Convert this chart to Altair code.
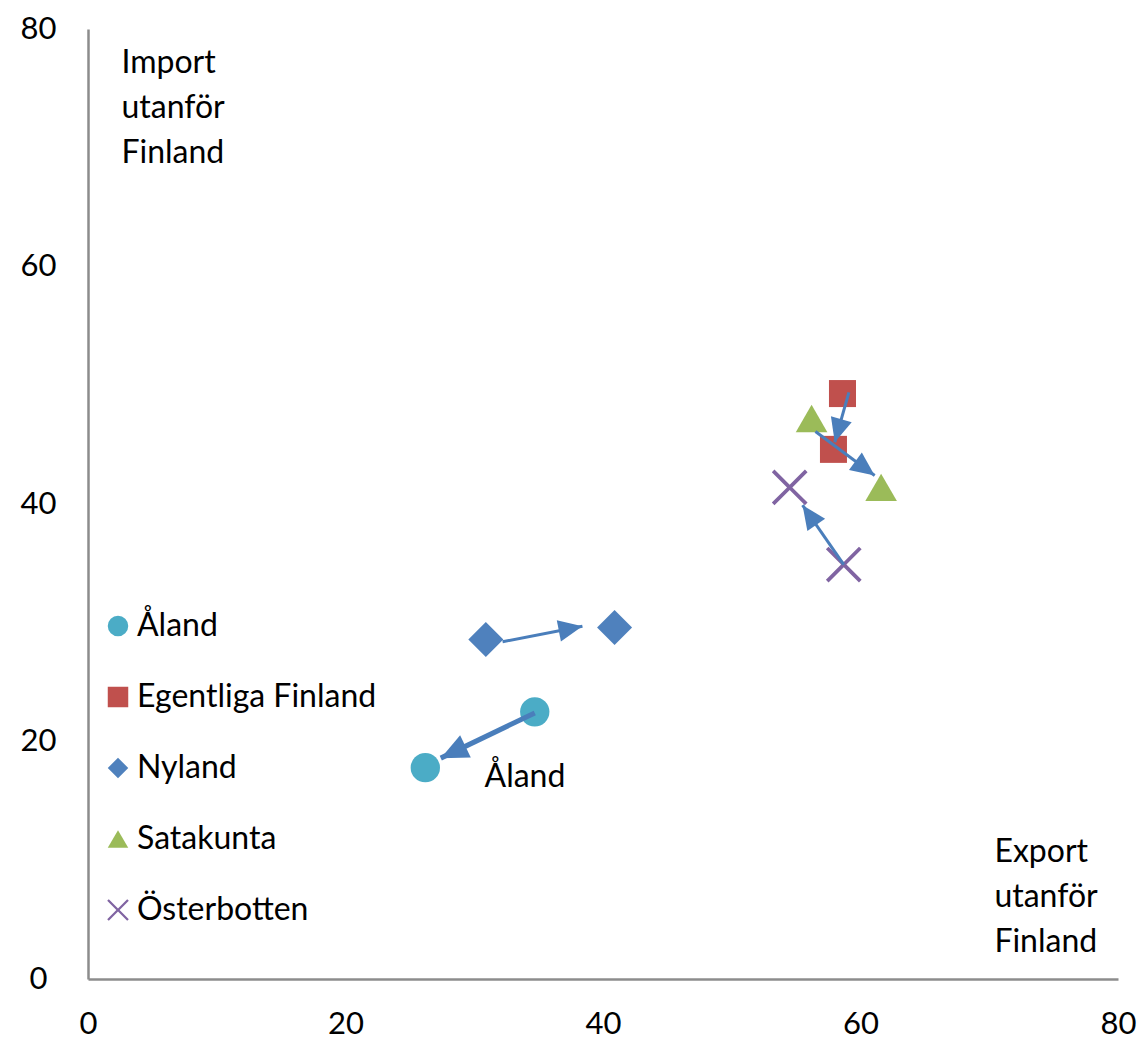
import math
import altair as alt
import pandas as pd

# ---- data ----
regions = ["Åland", "Egentliga Finland", "Nyland", "Satakunta", "Österbotten"]
colors = ["#4BACC6", "#C0504D", "#4F81BD", "#9BBB59", "#8064A2"]

# two observations per region: export outside Finland (x), import outside Finland (y)
x_start = [34.7, 58.6, 30.9, 56.2, 58.7]
y_start = [22.5, 49.3, 28.6, 47.2, 34.9]
x_end = [26.2, 57.9, 40.9, 61.6, 54.5]
y_end = [17.8, 44.6, 29.6, 41.4, 41.4]

# arrows (tail -> tip) as drawn
arrow_region = ["Åland", "Egentliga Finland", "Nyland", "Satakunta", "Österbotten"]
arrow_x1 = [34.7, 59.1, 32.2, 56.5, 58.7]
arrow_y1 = [22.4, 49.4, 28.4, 46.1, 34.9]
arrow_x2 = [27.4, 58.0, 38.4, 61.1, 55.5]
arrow_y2 = [18.6, 45.2, 29.7, 42.4, 39.9]

x_ticks = [0, 20, 40, 60, 80]
y_ticks = [0, 20, 40, 60, 80]

ann_text = ["Import\nutanför\nFinland", "Export\nutanför\nFinland", "Åland"]
ann_x = [2.6, 70.4, 30.8]
ann_y = [78.4, 11.95, 18.3]

# ---- layout ----
W, H = 1030, 950
FONT = "Lato"
px_x = W / 80.0
px_y = H / 80.0

pts = pd.DataFrame({
    "region": regions * 2,
    "x": x_start + x_end,
    "y": y_start + y_end,
})

angles = []
for a, b, c, d in zip(arrow_x1, arrow_y1, arrow_x2, arrow_y2):
    dx = (c - a) * px_x
    dy = (d - b) * px_y
    angles.append(math.degrees(math.atan2(dx, dy)) % 360)

arr = pd.DataFrame({
    "region": arrow_region,
    "x1": arrow_x1, "y1": arrow_y1,
    "x2": arrow_x2, "y2": arrow_y2,
    "angle": angles,
})

ann = pd.DataFrame({"text": ann_text, "x": ann_x, "y": ann_y})

# X-shaped filled polygon (rotated plus)
def x_path(w=0.11, L=1.38):
    plus = [(w, L), (w, w), (L, w), (L, -w), (w, -w), (w, -L),
            (-w, -L), (-w, -w), (-L, -w), (-L, w), (-w, w), (-w, L)]
    c = math.cos(math.pi / 4)
    rot = [((px - py) * c, (px + py) * c) for px, py in plus]
    return "M" + "L".join(f"{p:.3f},{q:.3f}" for p, q in rot) + "Z"

shapes = ["circle", "square", "diamond", "triangle-up", x_path()]
sizes = [860, 730, 1225, 1000, 1150]
size_expr = "".join(f"datum.region === '{r}' ? {s} : " for r, s in zip(regions, sizes)) + "900"

xscale = alt.Scale(domain=[0, 80], nice=False, zero=False)
yscale = alt.Scale(domain=[0, 80], nice=False, zero=False)

xaxis = alt.Axis(values=x_ticks, grid=False, ticks=False, labelPadding=30, labelFlush=False,
                 domainColor="#8c8c8c", domainWidth=2.5, title=None,
                 labelFont=FONT, labelFontSize=31, labelColor="#000000")
yaxis = alt.Axis(values=y_ticks, grid=False, ticks=False, labelPadding=50, labelAlign="center",
                 labelFlush=False,
                 domainColor="#8c8c8c", domainWidth=2.5, title=None,
                 labelFont=FONT, labelFontSize=31, labelColor="#000000")

leg = dict(title=None, orient="none", legendX=14, legendY=581,
           symbolSize=420, labelFont=FONT, labelFontSize=32, labelLimit=400,
           labelColor="#000000", rowPadding=39, labelOffset=3,
           symbolStrokeWidth=0)

points = alt.Chart(pts).transform_calculate(sz=size_expr).mark_point(filled=True, opacity=1).encode(
    x=alt.X("x:Q", scale=xscale, axis=xaxis),
    y=alt.Y("y:Q", scale=yscale, axis=yaxis),
    color=alt.Color("region:N", scale=alt.Scale(domain=regions, range=colors),
                    legend=alt.Legend(**leg)),
    shape=alt.Shape("region:N", scale=alt.Scale(domain=regions, range=shapes),
                    legend=alt.Legend(**leg)),
    size=alt.Size("sz:Q", scale=None, legend=None),
)

ARROW = "#4a7ebb"
lines = alt.Chart(arr).mark_rule(color=ARROW).encode(
    x="x1:Q", y="y1:Q", x2="x2:Q", y2="y2:Q",
    strokeWidth=alt.condition(alt.datum.region == "Åland", alt.value(5), alt.value(3)),
)

heads = alt.Chart(arr).mark_point(filled=True, opacity=1, color=ARROW,
                                  shape="M0,0L-0.45,1L0.45,1Z").encode(
    x="x2:Q", y="y2:Q",
    angle=alt.Angle("angle:Q", scale=None),
    size=alt.condition(alt.datum.region == "Åland", alt.value(3000), alt.value(2300)),
)

texts = alt.Chart(ann).mark_text(align="left", baseline="top", font=FONT, fontSize=32,
                                 lineBreak="\n", lineHeight=45, color="#000000").encode(
    x="x:Q", y="y:Q", text="text:N",
)

chart = alt.layer(points, lines, heads, texts).properties(
    width=W, height=H,
    autosize=alt.AutoSizeParams(type="none"),
    padding={"left": 80, "top": 21, "right": 20, "bottom": 70},
).configure(background="#ffffff").configure_view(stroke=None)

chart.save("out.html", embed_options={"renderer": "svg", "actions": False})
